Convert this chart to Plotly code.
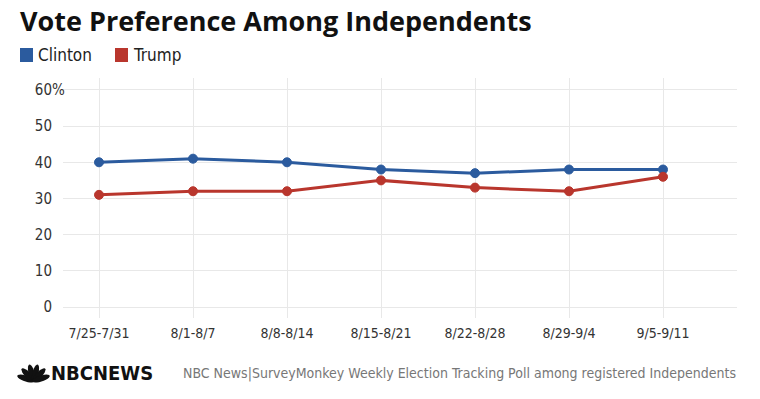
import numpy as np
import plotly.graph_objects as go

weeks = ["7/25-7/31", "8/1-8/7", "8/8-8/14", "8/15-8/21", "8/22-8/28", "8/29-9/4", "9/5-9/11"]
clinton = [40, 41, 40, 38, 37, 38, 38]
trump = [31, 32, 32, 35, 33, 32, 36]
series_names = ["Clinton", "Trump"]
y_ticks = [0, 10, 20, 30, 40, 50, 60]
y_ticktext = ["0", "10", "20", "30", "40", "50", "60"]

BLUE = "#2b5b9e"
RED = "#b9362d"
W, H = 760, 399
L, R, T, B = 63, 737, 78, 318

def px(x):
    return (x - L) / (R - L)

def py(y):
    return (B - y) / (B - T)

fig = go.Figure()
for name, vals, col in [(series_names[0], clinton, BLUE), (series_names[1], trump, RED)]:
    fig.add_trace(go.Scatter(
        x=list(range(len(weeks))), y=vals, name=name, mode="lines+markers",
        line=dict(color=col, width=3),
        marker=dict(color=col, size=9, line=dict(color=col, width=1)),
        showlegend=False, hoverinfo="skip"))

font_narrow = "DejaVu Sans Condensed, Roboto, sans-serif"

fig.update_layout(
    width=W, height=H,
    margin=dict(l=L, r=W - R, t=T, b=H - B),
    paper_bgcolor="white", plot_bgcolor="white",
    font=dict(family=font_narrow, size=14, color="#333333"),
    xaxis=dict(
        range=[(L - 99) / 94, (R - 99) / 94],
        tickvals=list(range(len(weeks))), ticktext=weeks,
        showgrid=True, gridcolor="#e8e8e8", gridwidth=1,
        zeroline=False, showline=False, ticks="", ticklabelstandoff=5,
        tickfont=dict(family=font_narrow, size=14, color="#333333"),
    ),
    yaxis=dict(
        range=[-3.04, 63.3],
        tickvals=y_ticks, ticktext=y_ticktext,
        showgrid=True, gridcolor="#e8e8e8", gridwidth=1,
        zeroline=False, showline=False, ticks="", ticklabelstandoff=10,
        tickfont=dict(family=font_narrow, size=15, color="#333333"),
    ),
)

annotations = []
shapes = []
# Title
annotations.append(dict(text="<b>Vote Preference Among Independents</b>", x=px(18), y=py(21),
                        xref="paper", yref="paper", xanchor="left", yanchor="middle", showarrow=False,
                        font=dict(family="Open Sans", size=27, color="#111111")))
# "%" on top tick
annotations.append(dict(text="%", x=px(50), y=py(90), xref="paper", yref="paper",
                        xanchor="left", yanchor="middle", showarrow=False,
                        font=dict(family=font_narrow, size=15, color="#333333")))
# Legend
for i, (name, col, sx) in enumerate([(series_names[0], BLUE, 20), (series_names[1], RED, 115)]):
    shapes.append(dict(type="rect", xref="paper", yref="paper", x0=px(sx), x1=px(sx + 13),
                       y0=py(62), y1=py(48), fillcolor=col, line=dict(width=0)))
    annotations.append(dict(text=name, x=px(sx + 16), y=py(55), xref="paper", yref="paper",
                            xanchor="left", yanchor="middle", showarrow=False,
                            font=dict(family=font_narrow, size=17, color="#222222")))
# Footer
annotations.append(dict(text="NBC News|SurveyMonkey Weekly Election Tracking Poll among registered Independents",
                        x=px(181), y=py(373), xref="paper", yref="paper", xanchor="left", yanchor="middle",
                        showarrow=False, font=dict(family=font_narrow, size=14, color="#777777")))
annotations.append(dict(text="<b>NBCNEWS</b>", x=px(49), y=py(373), xref="paper", yref="paper",
                        xanchor="left", yanchor="middle", showarrow=False,
                        font=dict(family=font_narrow, size=20, color="#111111")))
# Peacock logo (feathers)
cx, cy = 33.5, 381.0
for ang in [-72, -43, -14, 14, 43, 72]:
    a = np.deg2rad(ang)
    t = np.linspace(0, 2 * np.pi, 24)
    length, width = 9.0, 3.0
    lx = length * np.cos(t) + 8.0
    ly = width * np.sin(t)
    dx, dy = np.sin(a), -np.cos(a)
    xs = cx + lx * dx - ly * dy
    ys = cy + lx * dy + ly * dx
    path = "M " + " L ".join(f"{px(x):.5f},{py(y):.5f}" for x, y in zip(xs, ys)) + " Z"
    shapes.append(dict(type="path", xref="paper", yref="paper", path=path,
                       fillcolor="#111111", line=dict(width=0)))

fig.update_layout(annotations=annotations, shapes=shapes)
fig.write_html("out.html", config={"displayModeBar": False},
               post_script="document.body.style.margin='0';document.body.style.overflow='hidden';")
